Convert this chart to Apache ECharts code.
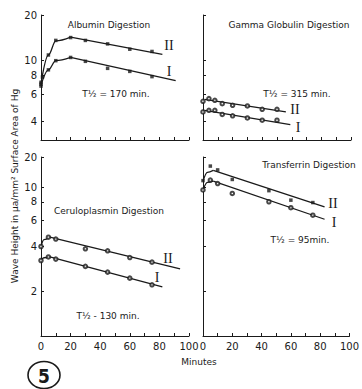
<!DOCTYPE html>
<html>
<head>
<meta charset="utf-8">
<script src="https://cdn.jsdelivr.net/npm/echarts@6/dist/echarts.min.js"></script>
<style>
  html, body { margin: 0; padding: 0; background: #fff; }
  #chart { width: 362px; height: 389px; }
</style>
</head>
<body>
<div id="chart"></div>
<script>
// axis ticks
const minuteTicks = [0, 10, 20, 30, 40, 50, 60, 70, 80, 90, 100];
const minuteLabels = [0, 20, 40, 60, 80, 100];
const topTicks = [4, 6, 8, 10, 20];
const bottomTicks = [2, 4, 6, 8, 10, 16];
const bottomTickText = ['2', '4', '6', '8', '10', '20'];

// Albumin (top left)
const albuminTimeII = [0, 0, 5, 10, 20, 30, 45, 60, 75];
const albuminII = [7.2, 7.0, 10.9, 13.6, 14.2, 13.6, 12.9, 11.9, 11.5];
const albuminTimeI = [0, 1, 5, 10, 20, 30, 45, 60, 75];
const albuminI = [6.8, 7.8, 8.7, 10.0, 10.5, 9.9, 8.9, 8.5, 7.85];
const albuminFitTimeII = [0, 5, 10, 20, 82];
const albuminFitII = [7.1, 10.9, 13.5, 14.3, 11.0];
const albuminFitTimeI = [0, 5, 10, 20, 91];
const albuminFitI = [6.9, 8.7, 10.0, 10.5, 7.4];

// Gamma globulin (top right)
const gammaTime = [0, 4, 8, 13, 20, 30, 40, 50];
const gammaII = [5.40, 5.62, 5.48, 5.21, 5.08, 5.03, 4.78, 4.78];
const gammaI = [4.59, 4.71, 4.71, 4.42, 4.33, 4.19, 4.05, 4.05];
const gammaFitTimeII = [1, 56];
const gammaFitII = [5.56, 4.59];
const gammaFitTimeI = [1, 59];
const gammaFitI = [4.71, 3.79];

// Ceruloplasmin (bottom left)
const ceruloTime = [0, 5, 10, 30, 45, 60, 75];
const ceruloII = [4.0, 4.62, 4.49, 3.86, 3.74, 3.37, 3.14];
const ceruloI = [3.22, 3.40, 3.29, 2.94, 2.69, 2.45, 2.21];
const ceruloFitTimeII = [0, 2, 6, 94];
const ceruloFitII = [4.0, 4.45, 4.62, 2.83];
const ceruloFitTimeI = [0, 2, 6, 82];
const ceruloFitI = [3.22, 3.36, 3.40, 2.14];

// Transferrin (bottom right)
const transTime = [0, 5, 10, 20, 45, 60, 75];
const transII = [11.1, 13.9, 13.1, 11.3, 9.5, 8.2, 7.9];
const transI = [9.6, 11.2, 10.6, 9.1, 8.0, 7.3, 6.5];
const transFitTimeII = [0, 3, 7, 83];
const transFitII = [11.0, 12.6, 13.0, 7.4];
const transFitTimeI = [0, 3, 7, 83];
const transFitI = [9.6, 10.8, 11.0, 6.1];

const ink = '#1a1a1a';
const sans = '"DejaVu Sans", sans-serif';
const serif = '"Liberation Serif", serif';

const pairs = (xs, ys) => xs.map((x, i) => [x, ys[i]]);

function xAxis(grid, showLabels) {
  return {
    type: 'value', gridIndex: grid, min: 0, max: 100,
    axisLine: { show: true, lineStyle: { color: ink, width: 1 } },
    axisTick: { show: true, inside: true, length: 3, customValues: minuteTicks, lineStyle: { color: ink } },
    axisLabel: {
      show: showLabels, customValues: minuteLabels, margin: 5,
      color: ink, fontSize: 10, fontFamily: sans
    },
    splitLine: { show: false }
  };
}

function yAxis(grid, row, showLabels) {
  const ticks = row === 0 ? topTicks : bottomTicks;
  return {
    type: 'log', logBase: 10, gridIndex: grid,
    min: row === 0 ? 3 : 1, max: row === 0 ? 20 : 16,
    axisLine: { show: true, lineStyle: { color: ink, width: 1 } },
    axisTick: { show: true, inside: true, length: 3, customValues: ticks, lineStyle: { color: ink } },
    axisLabel: {
      show: showLabels, customValues: ticks, margin: 4,
      color: ink, fontSize: 10, fontFamily: sans,
      formatter: v => row === 0 ? String(v) : bottomTickText[bottomTicks.indexOf(v)]
    },
    minorTick: { show: false },
    splitLine: { show: false }
  };
}

function points(grid, xs, ys, symbol) {
  const open = symbol === 'emptyCircle';
  return {
    type: 'scatter', xAxisIndex: grid, yAxisIndex: grid,
    data: pairs(xs, ys), symbol: symbol, symbolSize: open ? 3.5 : 3.5,
    itemStyle: { color: ink, borderColor: ink, borderWidth: open ? 0.9 : 0 },
    z: 3
  };
}

// fitted curve: smooth rise up to the bend, straight decline after it
function fit(grid, xs, ys) {
  const data = pairs(xs, ys);
  const bend = data.length - 2;
  const out = [{
    type: 'line', xAxisIndex: grid, yAxisIndex: grid,
    data: data.slice(bend), symbol: 'none',
    lineStyle: { color: ink, width: 1.3, type: 'solid' }
  }];
  if (bend > 0) {
    out.push({
      type: 'line', xAxisIndex: grid, yAxisIndex: grid,
      data: data.slice(0, bend + 1), symbol: 'none', smooth: 0.35, smoothMonotone: 'x',
      lineStyle: { color: ink, width: 1.3, type: 'solid' }
    });
  }
  return out;
}

function label(text, x, y, size, font) {
  return {
    type: 'text', x: x, y: y, silent: true,
    style: {
      text: text, fill: ink, fontSize: size || 9, fontFamily: font || sans,
      textAlign: 'center', textVerticalAlign: 'middle'
    }
  };
}

const chart = echarts.init(document.getElementById('chart'), null, { renderer: 'svg' });

chart.setOption({
  animation: false,
  backgroundColor: '#fff',
  grid: [
    { left: 41, top: 15, width: 148, height: 125 },
    { left: 203, top: 15, width: 148, height: 125 },
    { left: 41, top: 157, width: 148, height: 179 },
    { left: 203, top: 157, width: 148, height: 179 }
  ],
  xAxis: [xAxis(0, false), xAxis(1, false), xAxis(2, true), xAxis(3, true)],
  yAxis: [yAxis(0, 0, true), yAxis(1, 0, false), yAxis(2, 1, true), yAxis(3, 1, false)],
  series: [
    ...fit(0, albuminFitTimeII, albuminFitII),
    ...fit(0, albuminFitTimeI, albuminFitI),
    points(0, albuminTimeII, albuminII, 'rect'),
    points(0, albuminTimeI, albuminI, 'rect'),

    ...fit(1, gammaFitTimeII, gammaFitII),
    ...fit(1, gammaFitTimeI, gammaFitI),
    points(1, gammaTime, gammaII, 'emptyCircle'),
    points(1, gammaTime, gammaI, 'emptyCircle'),

    ...fit(2, ceruloFitTimeII, ceruloFitII),
    ...fit(2, ceruloFitTimeI, ceruloFitI),
    points(2, ceruloTime, ceruloII, 'emptyCircle'),
    points(2, ceruloTime, ceruloI, 'emptyCircle'),

    ...fit(3, transFitTimeII, transFitII),
    ...fit(3, transFitTimeI, transFitI),
    points(3, transTime, transII, 'rect'),
    points(3, transTime, transI, 'emptyCircle')
  ],
  graphic: [
    label('Albumin Digestion', 109, 25),
    label('II', 169, 45, 14, serif),
    label('I', 169, 71, 14, serif),
    label('T½ = 170 min.', 116, 94),

    label('Gamma Globulin Digestion', 289, 25),
    label('T½ = 315 min.', 297, 94),
    label('II', 295, 109, 14, serif),
    label('I', 298, 127, 14, serif),

    label('Ceruloplasmin Digestion', 109, 211),
    label('II', 168, 258, 14, serif),
    label('I', 157, 277, 14, serif),
    label('T½ - 130 min.', 108, 316),

    label('Transferrin Digestion', 309, 165),
    label('II', 333, 203, 14, serif),
    label('I', 334, 222, 14, serif),
    label('T½ = 95min.', 300, 240),

    label('Minutes', 199, 362),
    {
      type: 'text', x: 15, y: 186, rotation: Math.PI / 2, silent: true,
      style: {
        text: 'Wave Height in μa/mm² Surface Area of Hg', fill: ink,
        fontSize: 9, fontFamily: sans, textAlign: 'center', textVerticalAlign: 'middle'
      }
    },
    {
      type: 'ellipse', shape: { cx: 44, cy: 375, rx: 16, ry: 13.5 }, silent: true,
      style: { fill: 'none', stroke: ink, lineWidth: 1.6 }
    },
    {
      type: 'text', x: 44, y: 376, silent: true,
      style: {
        text: '5', fill: ink, fontSize: 19, fontWeight: 'bold',
        fontFamily: '"DejaVu Sans Condensed", "DejaVu Sans", sans-serif',
        textAlign: 'center', textVerticalAlign: 'middle'
      }
    }
  ]
});
</script>
</body>
</html>
